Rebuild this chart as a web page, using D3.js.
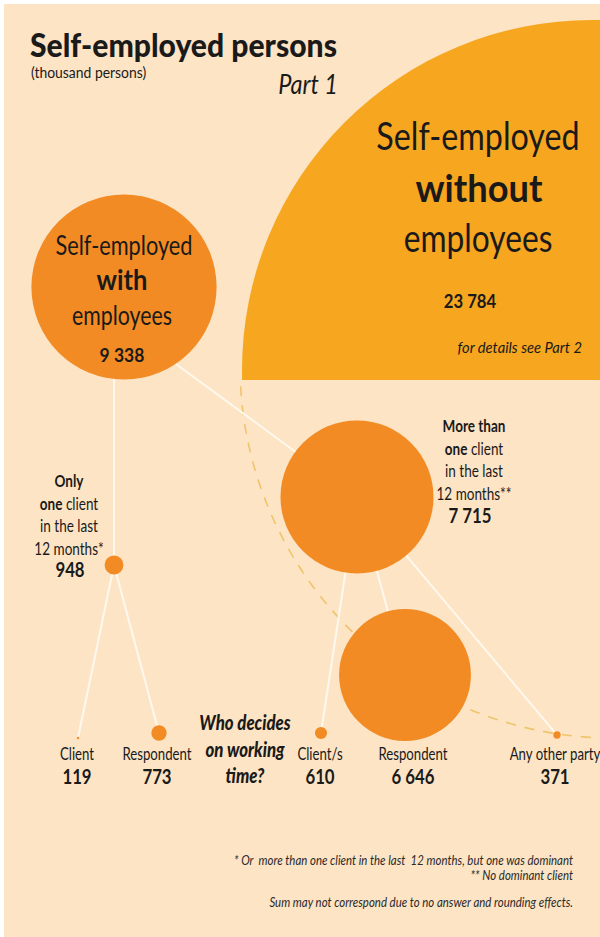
<!DOCTYPE html>
<html>
<head>
<meta charset="utf-8">
<script src="https://cdn.jsdelivr.net/npm/d3@7/dist/d3.min.js"></script>
<style>
  html, body { margin: 0; padding: 0; background: #ffffff; }
  svg { display: block; }
  text { font-family: Lato, "Open Sans", "Noto Sans", sans-serif; fill: #1a1a1a; white-space: pre; }
</style>
</head>
<body>
<div id="chart"></div>
<script>
// Self-employed persons (thousand persons), split by employees, clients and who decides on working time
const topGroups = ["Self-employed without employees", "Self-employed with employees"];
const topValues = [23784, 9338];

const clientGroups = ["Only one client in the last 12 months*", "More than one client in the last 12 months**"];
const clientValues = [948, 7715];

const deciders = ["Client", "Respondent", "Client/s", "Respondent", "Any other party"];
const deciderValues = [119, 773, 610, 6646, 371];
const deciderParent = [0, 0, 1, 1, 1];

const footnotes = [
  "* Or  more than one client in the last  12 months, but one was dominant",
  "** No dominant client",
  "Sum may not correspond due to no answer and rounding effects."
];

const W = 600, H = 937;
const COND = 0.84;               // horizontal squeeze for the condensed lettering
const C_BG = "#fde4c4", C_BIG = "#f7a61f", C_NODE = "#f28b24", C_LINE = "#fff8ef", C_DASH = "#efc56c";

const fmt = d3.formatLocale({ decimal: ".", thousands: " ", grouping: [3], currency: ["", ""] }).format(",d");

// circle sizes: radius grows linearly with the value
const r = d3.scaleLinear().domain([0, 7715]).range([0, 76.5]);
const rBig = d3.scaleLinear().domain([0, 23784]).range([0, 350]);

// node placement
const posWith = { x: 124, y: 287 };
const posBig = { x: 592, y: 370 };
const posClient = [{ x: 114, y: 565 }, { x: 357, y: 497 }];
const posDecider = [{ x: 78, y: 738 }, { x: 159, y: 733 }, { x: 321, y: 733 }, { x: 405, y: 675 }, { x: 557, y: 735 }];
const labelX = [77, 157, 320, 413, 555];

const svg = d3.select("#chart").append("svg").attr("width", W).attr("height", H);
const defs = svg.append("defs");
defs.append("clipPath").attr("id", "clipTop").append("rect").attr("x", 0).attr("y", 0).attr("width", W).attr("height", 380);
defs.append("clipPath").attr("id", "clipBottom").append("rect").attr("x", 0).attr("y", 380).attr("width", W).attr("height", H - 380);

svg.append("rect").attr("width", W).attr("height", H).attr("fill", "#ffffff");
svg.append("rect").attr("x", 4).attr("y", 4).attr("width", W - 4).attr("height", H - 4).attr("fill", C_BG);

// text helper: each piece is [string, weight]
function label(parent, x, y, pieces, opt) {
  const o = Object.assign({ size: 15, anchor: "middle", style: "normal", sx: COND, fill: "#1a1a1a" }, opt || {});
  const g = parent.append("g").attr("transform", `translate(${x},${y}) scale(${o.sx},1)`);
  const t = g.append("text").attr("text-anchor", o.anchor).attr("font-size", o.size)
    .attr("font-style", o.style).style("fill", o.fill);
  (typeof pieces === "string" ? [[pieces, 400]] : pieces).forEach(p => {
    t.append("tspan").attr("font-weight", p[1]).text(p[0]);
  });
  return t;
}

// large circle: self-employed without employees, cut off at the band edge
svg.append("circle").attr("clip-path", "url(#clipTop)")
  .attr("cx", posBig.x).attr("cy", posBig.y).attr("r", rBig(topValues[0])).attr("fill", C_BIG);

// dashed outline of all self-employed continuing below the band
svg.append("circle").attr("clip-path", "url(#clipBottom)")
  .attr("cx", 613).attr("cy", 365).attr("r", 373)
  .attr("fill", "none").attr("stroke", C_DASH).attr("stroke-width", 1.6).attr("stroke-dasharray", "10,9");

// connectors
const links = [
  { s: { x: 114, y: 330 }, t: posClient[0] },
  { s: { x: 150, y: 345 }, t: posClient[1] }
];
deciderParent.forEach((p, i) => links.push({ s: posClient[p], t: posDecider[i] }));
svg.append("g").selectAll("line").data(links).join("line")
  .attr("x1", d => d.s.x).attr("y1", d => d.s.y).attr("x2", d => d.t.x).attr("y2", d => d.t.y)
  .attr("stroke", C_LINE).attr("stroke-width", 2);

// nodes
svg.append("circle").attr("cx", posWith.x).attr("cy", posWith.y).attr("r", r(topValues[1])).attr("fill", C_NODE);
svg.append("g").selectAll("circle").data(clientValues).join("circle")
  .attr("cx", (d, i) => posClient[i].x).attr("cy", (d, i) => posClient[i].y).attr("r", d => r(d)).attr("fill", C_NODE);
svg.append("g").selectAll("circle").data(deciderValues).join("circle")
  .attr("cx", (d, i) => posDecider[i].x).attr("cy", (d, i) => posDecider[i].y).attr("r", d => r(d)).attr("fill", C_NODE);

// title block
const T = svg.append("g");
label(T, 30, 57, [["Self-employed persons", 900]], { size: 32, anchor: "start", sx: 0.94 });
label(T, 31, 78, "(thousand persons)", { size: 14.5, anchor: "start", sx: 0.96 });
label(T, 338, 94, "Part 1", { size: 27, anchor: "end", style: "italic", sx: 0.87 });

// label inside the large circle
label(svg, 478, 150, "Self-employed", { size: 38, sx: 0.85 });
label(svg, 479, 202, [["without", 700]], { size: 38, sx: 0.955 });
label(svg, 478, 252, "employees", { size: 38, sx: 0.835 });
label(svg, 470, 308, [[fmt(topValues[0]), 700]], { size: 19, sx: 0.88 });
label(svg, 582, 353, "for details see Part 2", { size: 16, anchor: "end", style: "italic", sx: 0.92 });

// label inside the circle of self-employed with employees
label(svg, 124, 255, "Self-employed", { size: 27, sx: 0.806 });
label(svg, 122, 290, [["with", 700]], { size: 29, sx: 0.88 });
label(svg, 122, 325, "employees", { size: 27, sx: 0.79 });
label(svg, 122, 362, [[fmt(topValues[1]), 700]], { size: 19, sx: 0.92 });

// client-count labels
const lh = 22.5;
[[["Only", 700]], [["one", 700], [" client", 400]], [["in the last", 400]], [["12 months*", 400]]]
  .forEach((p, i) => label(svg, 69, 487 + i * lh, p, { size: 16.5, sx: 0.82 }));
label(svg, 70, 577, [[fmt(clientValues[0]), 700]], { size: 20 });

[[["More than", 700]], [["one", 700], [" client", 400]], [["in the last", 400]], [["12 months**", 400]]]
  .forEach((p, i) => label(svg, 474, 432 + i * lh, p, { size: 16.5, sx: 0.82 }));
label(svg, 470, 523, [[fmt(clientValues[1]), 700]], { size: 20 });

// decider labels
deciders.forEach((d, i) => {
  label(svg, labelX[i], 760, d, { size: 16.5, sx: 0.8 });
  label(svg, labelX[i], 784, [[fmt(deciderValues[i]), 700]], { size: 20 });
});

// question
["Who decides", "on working", "time?"].forEach((s, i) =>
  label(svg, 245, [730, 757, 783][i], [[s, 900]], { size: 20, style: "italic", sx: 0.84 }));

// notes
footnotes.forEach((s, i) =>
  label(svg, 573, [865, 880, 907][i], s, { size: 13, anchor: "end", style: "italic", fill: "#2a2a2a", sx: 0.88 }));
</script>
</body>
</html>
